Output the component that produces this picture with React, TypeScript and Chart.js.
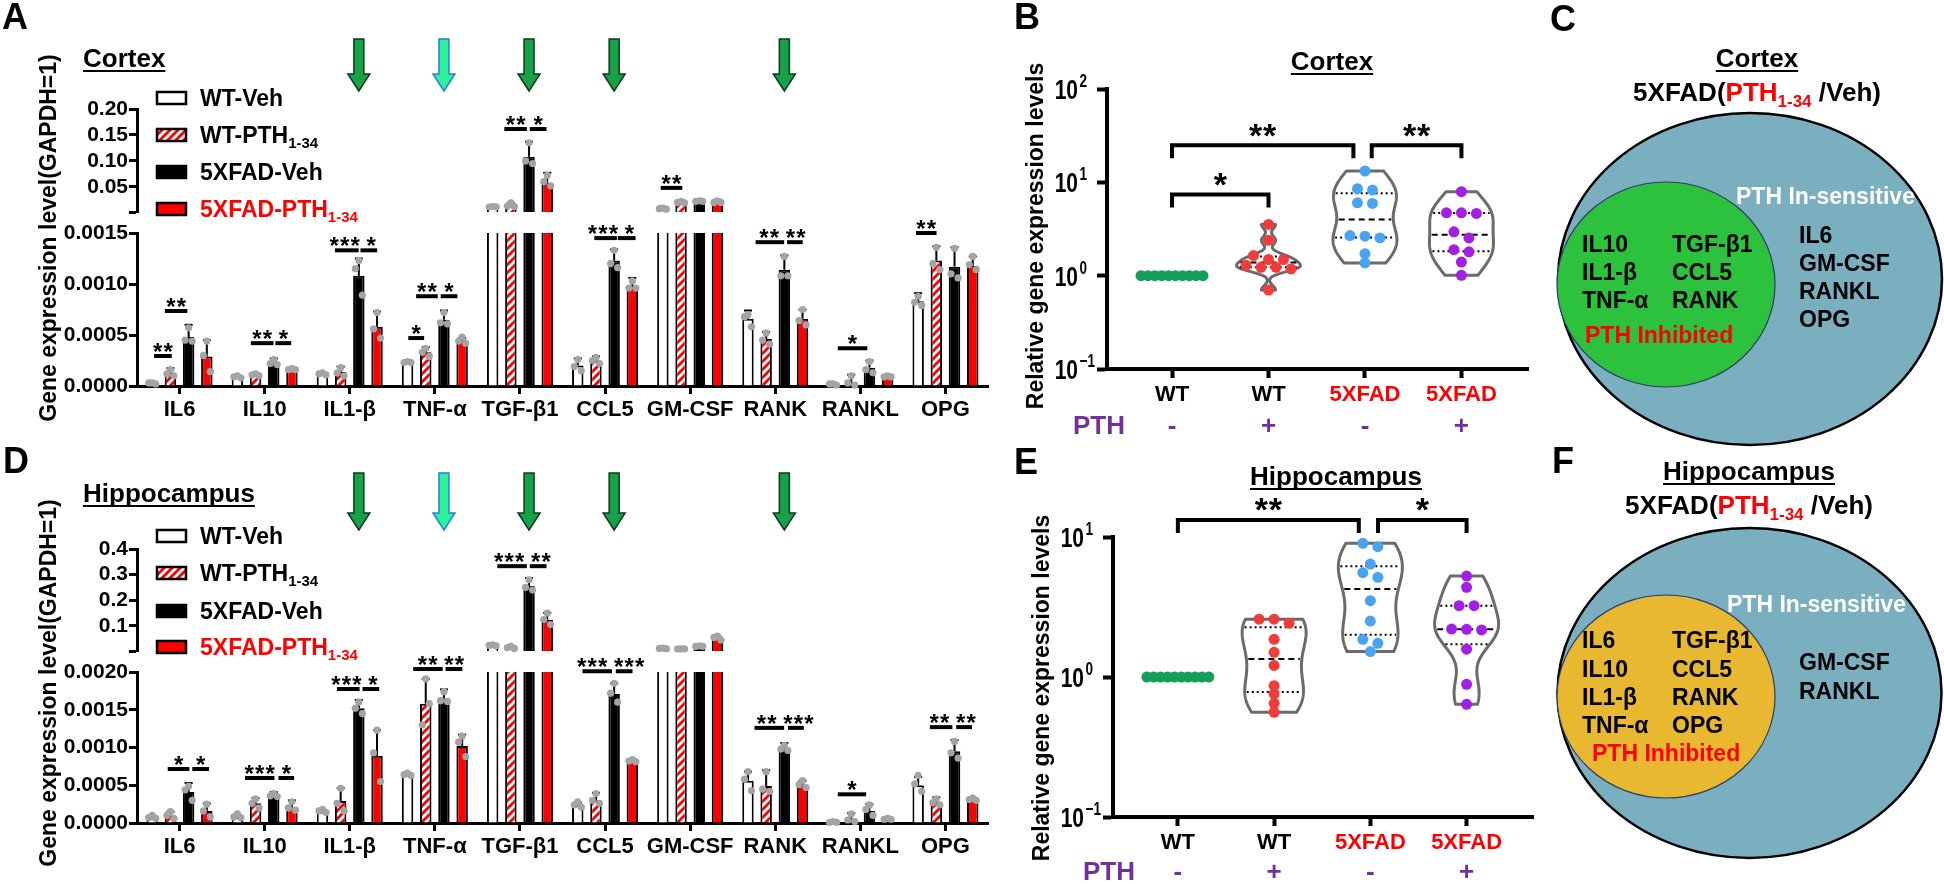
import React, { useEffect, useRef } from 'react';
import { Chart, registerables } from 'chart.js';

Chart.register(...registerables);

const CW = 1944;
const CH = 884;
const FONT = "'Liberation Sans', Arial, Helvetica, sans-serif";
const fnt = (size: number, bold: boolean = true) => `${bold ? 'bold ' : ''}${size}px ${FONT}`;
const RED = '#ff0000';
const PURPLE = '#7030a0';
Chart.defaults.font.family = FONT;

// ================= Panels A & D : gene expression (bars) =================
const GENES = ['IL6', 'IL10', 'IL1-β', 'TNF-α', 'TGF-β1', 'CCL5', 'GM-CSF', 'RANK', 'RANKL', 'OPG'];
const LEGEND_LABELS = [['WT-Veh', ''], ['WT-PTH', '1-34'], ['5XFAD-Veh', ''], ['5XFAD-PTH', '1-34']];

// Cortex means
const CTX_WT_VEH = [3e-5, 9e-5, 1.2e-4, 2.3e-4, 0.0115, 2.0e-4, 0.008, 6.6e-4, 2e-5, 8.3e-4];
const CTX_WT_PTH = [1.3e-4, 1.1e-4, 1.4e-4, 3.3e-4, 0.015, 2.5e-4, 0.02, 4.6e-4, 4e-5, 1.23e-3];
const CTX_5X_VEH = [4.8e-4, 2.3e-4, 1.08e-3, 6.5e-4, 0.108, 1.23e-3, 0.022, 1.14e-3, 1.8e-4, 1.17e-3];
const CTX_5X_PTH = [2.9e-4, 1.6e-4, 5.8e-4, 4.4e-4, 0.058, 9.8e-4, 0.021, 6.6e-4, 9e-5, 1.18e-3];
// Cortex SD
const CTX_SD_WT_VEH = [1e-5, 1e-5, 1e-5, 1e-5, 0.001, 7e-5, 0.002, 8e-5, 1e-5, 8e-5];
const CTX_SD_WT_PTH = [4.5e-5, 1.5e-5, 5e-5, 5e-5, 0.004, 4e-5, 0.003, 7e-5, 7e-5, 1.4e-4];
const CTX_SD_5X_VEH = [1.2e-4, 4e-5, 1.7e-4, 9e-5, 0.029, 1.1e-4, 0.002, 1.4e-4, 7e-5, 1.9e-4];
const CTX_SD_5X_PTH = [1.6e-4, 1e-5, 1.5e-4, 3e-5, 0.019, 8e-5, 0.004, 9e-5, 1e-5, 9e-5];
// Cortex individual samples
const CTX_PTS_WT_VEH = [[3e-5, 3e-5, 2e-5], [1e-4, 9e-5, 8e-5], [1.3e-4, 1.2e-4, 1.1e-4], [2.4e-4, 2.3e-4, 2.3e-4], [0.012, 0.011, 0.0115], [2.6e-4, 1.9e-4, 1.5e-4], [0.009, 0.008, 0.007], [7e-4, 6.8e-4, 5.8e-4], [2e-5, 2e-5, 1e-5], [8.8e-4, 8.2e-4, 7.9e-4]];
const CTX_PTS_WT_PTH = [[1.6e-4, 1.2e-4, 1.0e-4], [1.2e-4, 1.1e-4, 1.0e-4], [1.8e-4, 1.3e-4, 1.0e-4], [3.7e-4, 3.3e-4, 2.9e-4], [0.019, 0.013, 0.012], [2.8e-4, 2.5e-4, 2.2e-4], [0.022, 0.02, 0.019], [5.2e-4, 4.5e-4, 4.1e-4], [1e-4, 3e-5, 1e-5], [1.36e-3, 1.2e-3, 1.14e-3]];
const CTX_PTS_5X_VEH = [[5.7e-4, 4.5e-4, 4.4e-4], [2.6e-4, 2.2e-4, 2.1e-4], [1.23e-3, 1.15e-3, 8.9e-4], [7.2e-4, 6.2e-4, 6.1e-4], [0.135, 0.1, 0.095], [1.33e-3, 1.2e-3, 1.16e-3], [0.023, 0.022, 0.022], [1.27e-3, 1.08e-3, 1.08e-3], [2.4e-4, 1.6e-4, 1.3e-4], [1.35e-3, 1.1e-3, 1.06e-3]];
const CTX_PTS_5X_PTH = [[4.4e-4, 3.0e-4, 1.4e-4], [1.7e-4, 1.6e-4, 1.6e-4], [7.2e-4, 5.6e-4, 4.7e-4], [4.8e-4, 4.4e-4, 4.2e-4], [0.072, 0.06, 0.052], [1.03e-3, 9.6e-4, 9.6e-4], [0.023, 0.02, 0.02], [7.5e-4, 6.4e-4, 6.0e-4], [1e-4, 9e-5, 9e-5], [1.27e-3, 1.19e-3, 1.14e-3]];
// Cortex significance: [gene, from (bar units), to, level, axis part, label]
const CTX_SIG = [
  [0, -1.4, -0.43, 2.94e-4, 'l', '**'],
  [0, -0.81, 0.43, 7.35e-4, 'l', '**'],
  [1, -0.76, 0.49, 4.2e-4, 'l', '**'],
  [1, 0.59, 1.46, 4.2e-4, 'l', '*'],
  [2, -0.81, 0.49, 1.33e-3, 'l', '***'],
  [2, 0.59, 1.51, 1.33e-3, 'l', '*'],
  [3, -1.46, -0.59, 4.7e-4, 'l', '*'],
  [3, -1.03, 0.16, 8.8e-4, 'l', '**'],
  [3, 0.32, 1.24, 8.8e-4, 'l', '*'],
  [4, -0.86, 0.38, 0.1615, 'u', '**'],
  [4, 0.54, 1.46, 0.1615, 'u', '*'],
  [5, -0.59, 0.65, 1.45e-3, 'l', '***'],
  [5, 0.7, 1.68, 1.45e-3, 'l', '*'],
  [6, -1.62, -0.43, 0.048, 'u', '**'],
  [7, -1.08, 0.49, 1.41e-3, 'l', '**'],
  [7, 0.65, 1.51, 1.41e-3, 'l', '**'],
  [8, -1.24, 0.38, 3.7e-4, 'l', '*'],
  [9, -1.62, -0.49, 1.5e-3, 'l', '**'],
];

// Hippocampus means
const HIP_WT_VEH = [7e-5, 8e-5, 1.5e-4, 6.4e-4, 0.023, 2.4e-4, 0.012, 5.6e-4, 1e-5, 5.0e-4];
const HIP_WT_PTH = [1.0e-4, 2.6e-4, 2.9e-4, 1.58e-3, 0.016, 3.0e-4, 0.01, 4.9e-4, 6e-5, 2.8e-4];
const HIP_5X_VEH = [4.1e-4, 3.6e-4, 1.52e-3, 1.65e-3, 0.256, 1.71e-3, 0.02, 1.0e-3, 1.6e-4, 9.5e-4];
const HIP_5X_PTH = [1.6e-4, 2.1e-4, 8.9e-4, 1.02e-3, 0.124, 8.2e-4, 0.052, 5.0e-4, 5e-5, 3.1e-4];
// Hippocampus SD
const HIP_SD_WT_VEH = [2e-5, 2e-5, 2e-5, 1e-5, 0.002, 3e-5, 0.001, 1.2e-4, 1e-5, 1.1e-4];
const HIP_SD_WT_PTH = [5e-5, 7e-5, 1.7e-4, 3.3e-4, 0.004, 1e-4, 0.001, 2.1e-4, 7e-5, 6e-5];
const HIP_SD_5X_VEH = [1.2e-4, 5e-5, 1.1e-4, 1.2e-4, 0.031, 1.4e-4, 0.002, 6e-5, 9e-5, 1.5e-4];
const HIP_SD_5X_PTH = [1e-4, 9e-5, 3.4e-4, 1.5e-4, 0.027, 2e-5, 0.006, 6e-5, 1e-5, 2e-5];
// Hippocampus individual samples
const HIP_PTS_WT_VEH = [[1e-4, 7e-5, 6e-5], [1.2e-4, 8e-5, 7e-5], [1.8e-4, 1.6e-4, 1.4e-4], [6.6e-4, 6.4e-4, 6.3e-4], [0.026, 0.024, 0.022], [2.8e-4, 2.4e-4, 2.1e-4], [0.013, 0.012, 0.011], [6.8e-4, 5.8e-4, 4.3e-4], [2e-5, 1e-5, 1e-5], [6.3e-4, 5.2e-4, 4.2e-4]];
const HIP_PTS_WT_PTH = [[1.5e-4, 1.0e-4, 6e-5], [3.2e-4, 2.6e-4, 2.0e-4], [4.6e-4, 2.6e-4, 1.6e-4], [1.91e-3, 1.3e-3, 1.58e-3], [0.02, 0.015, 0.012], [3.9e-4, 3.0e-4, 2.6e-4], [0.01, 0.01, 0.01], [6.8e-4, 4.5e-4, 4.2e-4], [1.2e-4, 4e-5, 2e-5], [3.2e-4, 2.7e-4, 2.4e-4]];
const HIP_PTS_5X_VEH = [[4.9e-4, 4.4e-4, 3.0e-4], [3.9e-4, 3.6e-4, 3.5e-4], [1.6e-3, 1.52e-3, 1.45e-3], [1.74e-3, 1.62e-3, 1.61e-3], [0.28, 0.25, 0.24], [1.85e-3, 1.72e-3, 1.6e-3], [0.022, 0.02, 0.02], [1.03e-3, 9.8e-4, 9.6e-4], [2.4e-4, 1.8e-4, 1e-4], [1.08e-3, 9.3e-4, 8.6e-4]];
const HIP_PTS_5X_PTH = [[2.5e-4, 1.6e-4, 8e-5], [2.8e-4, 2.0e-4, 1.7e-4], [1.23e-3, 9.3e-4, 5.5e-4], [1.15e-3, 1.07e-3, 8.8e-4], [0.15, 0.125, 0.105], [8.4e-4, 8.2e-4, 8.1e-4], [0.06, 0.055, 0.045], [5.6e-4, 5.1e-4, 4.7e-4], [6e-5, 5e-5, 5e-5], [3.3e-4, 3.1e-4, 3.0e-4]];
const HIP_SIG = [
  [0, -0.65, 0.54, 7.15e-4, 'l', '*'],
  [0, 0.7, 1.62, 7.15e-4, 'l', '*'],
  [1, -1.08, 0.54, 5.96e-4, 'l', '***'],
  [1, 0.76, 1.62, 5.96e-4, 'l', '*'],
  [2, -0.7, 0.54, 1.775e-3, 'l', '***'],
  [2, 0.7, 1.62, 1.775e-3, 'l', '*'],
  [3, -1.19, 0.43, 2.04e-3, 'l', '**'],
  [3, 0.59, 1.51, 2.04e-3, 'l', '**'],
  [4, -1.24, 0.38, 0.333, 'u', '***'],
  [4, 0.54, 1.46, 0.333, 'u', '**'],
  [5, -1.24, 0.38, 2.01e-3, 'l', '***'],
  [5, 0.59, 1.51, 2.01e-3, 'l', '***'],
  [7, -1.14, 0.49, 1.26e-3, 'l', '**'],
  [7, 0.7, 1.57, 1.26e-3, 'l', '***'],
  [8, -1.24, 0.32, 3.8e-4, 'l', '*'],
  [9, -0.86, 0.38, 1.27e-3, 'l', '**'],
  [9, 0.59, 1.46, 1.27e-3, 'l', '**'],
];

const ARROW_GENES = [2, 3, 4, 5, 7];
const ARROW_LIGHT = [false, true, false, false, false];

// ================= Panels B & E : relative expression (violins) =================
const REL_CATS = ['WT', 'WT', '5XFAD', '5XFAD'];
const REL_CAT_COLORS = ['#000000', '#000000', RED, RED];
const PTH_SIGNS = ['-', '+', '-', '+'];
const REL_DOT_COLORS = ['#139f5b', '#f23b3b', '#4aa3f2', '#a21fe6'];

const CTX_REL_WT_VEH = [1, 1, 1, 1, 1, 1, 1, 1, 1, 1];
const CTX_REL_WT_PTH = [3.54, 2.39, 1.64, 1.49, 1.49, 1.29, 1.23, 1.23, 1.18, 0.7];
const CTX_REL_5X_VEH = [13.2, 8.55, 8.26, 6.03, 5.94, 2.69, 2.65, 2.54, 1.72, 1.37];
const CTX_REL_5X_PTH = [7.94, 4.72, 4.72, 4.64, 2.95, 2.54, 1.9, 1.8, 1.4, 1.01];
const CTX_REL_SIG = [
  { from: 0, to: 1, v: 7.4, t: '*' },
  { from: 0, to: 1.88, v: 25, t: '**' },
  { from: 2.07, to: 3, v: 25, t: '**' },
];

const HIP_REL_WT_VEH = [1, 1, 1, 1, 1, 1, 1, 1, 1, 1];
const HIP_REL_WT_PTH = [2.59, 2.59, 2.42, 1.86, 1.5, 1.21, 0.867, 0.756, 0.649, 0.56];
const HIP_REL_5X_VEH = [9.02, 8.53, 6.41, 5.56, 5.15, 3.51, 2.51, 1.86, 1.74, 1.52];
const HIP_REL_5X_PTH = [5.26, 4.37, 3.23, 3.23, 2.2, 2.19, 2.17, 1.58, 0.887, 0.638];
const HIP_REL_SIG = [
  { from: 0, to: 1.88, v: 13.2, t: '**' },
  { from: 2.08, to: 3, v: 13.2, t: '*' },
];

// ================= Panels C & F : Venn summaries =================
const C_INHIB_1 = ['IL10', 'IL1-β', 'TNF-α'];
const C_INHIB_2 = ['TGF-β1', 'CCL5', 'RANK'];
const C_INSENS = ['IL6', 'GM-CSF', 'RANKL', 'OPG'];
const F_INHIB_1 = ['IL6', 'IL10', 'IL1-β', 'TNF-α'];
const F_INHIB_2 = ['TGF-β1', 'CCL5', 'RANK', 'OPG'];
const F_INSENS = ['GM-CSF', 'RANKL'];

// ================= layout configs =================
const A_CFG = {
  letter: 'A', letterPos: [2, 19], title: 'Cortex', titlePos: [83, 60], yTitle: [50, 238],
  upper: { l: 137, t: 109, r: 988, b: 212, min: 0.0015, max: 0.2, ticks: [0.05, 0.1, 0.15, 0.2], dec: 2 },
  lower: { l: 137, t: 233, r: 988, b: 386, max: 0.0015, ticks: [0, 0.0005, 0.001, 0.0015] },
  legendRows: [98, 135, 172, 209], arrowTop: 39, arrowBot: 91,
  means: [CTX_WT_VEH, CTX_WT_PTH, CTX_5X_VEH, CTX_5X_PTH],
  sds: [CTX_SD_WT_VEH, CTX_SD_WT_PTH, CTX_SD_5X_VEH, CTX_SD_5X_PTH],
  pts: [CTX_PTS_WT_VEH, CTX_PTS_WT_PTH, CTX_PTS_5X_VEH, CTX_PTS_5X_PTH],
  sig: CTX_SIG,
};
const D_CFG = {
  letter: 'D', letterPos: [3, 463], title: 'Hippocampus', titlePos: [83, 495], yTitle: [50, 683],
  upper: { l: 137, t: 549, r: 988, b: 651, min: 0.002, max: 0.4, ticks: [0.1, 0.2, 0.3, 0.4], dec: 1 },
  lower: { l: 137, t: 672, r: 988, b: 823, max: 0.002, ticks: [0, 0.0005, 0.001, 0.0015, 0.002] },
  legendRows: [536, 573, 611, 647], arrowTop: 473, arrowBot: 530,
  means: [HIP_WT_VEH, HIP_WT_PTH, HIP_5X_VEH, HIP_5X_PTH],
  sds: [HIP_SD_WT_VEH, HIP_SD_WT_PTH, HIP_SD_5X_VEH, HIP_SD_5X_PTH],
  pts: [HIP_PTS_WT_VEH, HIP_PTS_WT_PTH, HIP_PTS_5X_VEH, HIP_PTS_5X_PTH],
  sig: HIP_SIG,
};
const B_CFG = {
  letter: 'B', letterPos: [1014, 19], title: 'Cortex', titlePos: [1332, 63], yTitle: [1037, 236],
  area: { l: 1107, t: 89, r: 1528, b: 369 }, yMin: 0.1, yMax: 100, yTicks: [0.1, 1, 10, 100], exps: ['−1', '0', '1', '2'],
  xMin: -0.674, xMax: 3.69, pthX: 1073, pthY: 427,
  groups: [CTX_REL_WT_VEH, CTX_REL_WT_PTH, CTX_REL_5X_VEH, CTX_REL_5X_PTH], sig: CTX_REL_SIG,
};
const E_CFG = {
  letter: 'E', letterPos: [1014, 464], title: 'Hippocampus', titlePos: [1336, 478], yTitle: [1043, 688],
  area: { l: 1113, t: 537, r: 1533, b: 817 }, yMin: 0.1, yMax: 10, yTicks: [0.1, 1, 10], exps: ['−1', '0', '1'],
  xMin: -0.674, xMax: 3.69, pthX: 1083, pthY: 873,
  groups: [HIP_REL_WT_VEH, HIP_REL_WT_PTH, HIP_REL_5X_VEH, HIP_REL_5X_PTH], sig: HIP_REL_SIG,
};
const VENN = [
  {
    letter: 'C', letterPos: [1550, 21], title: 'Cortex', cx: 1757, titleY: 60, subY: 92,
    outer: [1750, 279, 192, 166], inner: [1666, 284.5, 109, 102.5], innerFill: '#2cc23e',
    col1: C_INHIB_1, col2: C_INHIB_2, right: C_INSENS, col1X: 1582, col2X: 1672, rowY0: 246, rowDy: 28,
    inhibX: 1585, inhibY: 337, insensX: 1736, insensY: 198, rightX: 1799, rightY0: 237,
  },
  {
    letter: 'F', letterPos: [1552, 463], title: 'Hippocampus', cx: 1749, titleY: 473, subY: 505,
    outer: [1749.5, 693, 192, 165], inner: [1666, 696.5, 109, 101.5], innerFill: '#e8b830',
    col1: F_INHIB_1, col2: F_INHIB_2, right: F_INSENS, col1X: 1582, col2X: 1672, rowY0: 642, rowDy: 28.3,
    inhibX: 1592, inhibY: 755, insensX: 1727, insensY: 606, rightX: 1799, rightY0: 664,
  },
];

// ================= drawing helpers =================
function line(ctx: any, x1: number, y1: number, x2: number, y2: number) {
  ctx.beginPath();
  ctx.moveTo(x1, y1);
  ctx.lineTo(x2, y2);
  ctx.stroke();
}
function drawParts(ctx: any, parts: any[], x: number, baseline: number, size: number, align: string) {
  const subSize = Math.round(size * 0.64);
  const widths = parts.map((p) => {
    ctx.font = fnt(p.sub ? subSize : size);
    return ctx.measureText(p.t).width;
  });
  const total = widths.reduce((a, b) => a + b, 0);
  let cx = align === 'center' ? x - total / 2 : x;
  ctx.textAlign = 'left';
  ctx.textBaseline = 'alphabetic';
  parts.forEach((p, i) => {
    ctx.font = fnt(p.sub ? subSize : size);
    ctx.fillStyle = p.c;
    ctx.fillText(p.t, cx, baseline + (p.sub ? size * 0.22 : 0));
    cx += widths[i];
  });
}
function drawLetter(ctx: any, letter: string, pos: number[]) {
  ctx.font = fnt(36);
  ctx.fillStyle = '#000';
  ctx.textAlign = 'left';
  ctx.textBaseline = 'middle';
  ctx.fillText(letter, pos[0], pos[1]);
}
function drawTitle(ctx: any, text: string, x: number, cy: number, align: string) {
  ctx.font = fnt(26);
  const w = ctx.measureText(text).width;
  const x0 = align === 'center' ? x - w / 2 : x;
  ctx.textAlign = 'left';
  ctx.textBaseline = 'middle';
  ctx.fillStyle = '#000';
  ctx.fillText(text, x0, cy);
  ctx.lineWidth = 2;
  ctx.strokeStyle = '#000';
  line(ctx, x0, cy + 11, x0 + w, cy + 11);
}
function drawVTitle(ctx: any, text: string, pos: number[], size: number) {
  ctx.save();
  ctx.translate(pos[0], pos[1]);
  ctx.rotate(-Math.PI / 2);
  ctx.font = fnt(size);
  ctx.fillStyle = '#000';
  ctx.textAlign = 'center';
  ctx.textBaseline = 'middle';
  ctx.fillText(text, 0, 0);
  ctx.restore();
}
// asterisks drawn one by one with a fixed pitch, centred on x
function drawStars(ctx: any, t: string, x: number, lineY: number, size: number, gap: number, pitch: number) {
  ctx.font = fnt(size);
  ctx.fillStyle = '#000';
  ctx.textAlign = 'center';
  ctx.textBaseline = 'alphabetic';
  const n = t.length;
  const base = lineY - gap + 0.57 * size;
  for (let i = 0; i < n; i++) {
    ctx.fillText('*', x + (i - (n - 1) / 2) * pitch, base);
  }
}

let stripeCache: any = null;
function stripePattern() {
  if (stripeCache) return stripeCache;
  const c = document.createElement('canvas');
  c.width = 8;
  c.height = 8;
  const g = c.getContext('2d') as CanvasRenderingContext2D;
  g.fillStyle = RED;
  g.fillRect(0, 0, 8, 8);
  g.strokeStyle = '#ffffff';
  g.lineWidth = 2.8;
  g.beginPath();
  g.moveTo(-2, 10); g.lineTo(10, -2);
  g.moveTo(-6, 6); g.lineTo(6, -6);
  g.moveTo(2, 14); g.lineTo(14, 2);
  g.stroke();
  stripeCache = g.createPattern(c, 'repeat');
  return stripeCache;
}

const DOT_DX = [0, -3.5, 3.5];
const STAR_PITCH = 10.5;
const STAR_GLYPH = 9;

// ================= bar panel plugin =================
function barPanelPlugin(cfg: any, part: string) {
  const lowMax = cfg.lower.max;
  const onPart = (v: number) => (part === 'u' ? v > lowMax : v <= lowMax);
  return {
    id: 'barPanel' + part,
    afterDatasetsDraw(chart: any) {
      const ctx = chart.ctx;
      const ys = chart.scales.y;
      const metas = [0, 1, 2, 3].map((i) => chart.getDatasetMeta(i));
      ctx.save();
      ctx.lineCap = 'butt';
      for (let g = 0; g < 4; g++) {
        for (let c = 0; c < GENES.length; c++) {
          const m = cfg.means[g][c];
          if (!onPart(m)) continue;
          const x = metas[g].data[c].x;
          const yM = ys.getPixelForValue(m);
          const yT = ys.getPixelForValue(m + cfg.sds[g][c]);
          ctx.strokeStyle = '#000';
          ctx.lineWidth = 2;
          line(ctx, x, yM, x, yT);
          line(ctx, x - 4, yT, x + 4, yT);
        }
      }
      ctx.fillStyle = '#a4a4a4';
      for (let g = 0; g < 4; g++) {
        for (let c = 0; c < GENES.length; c++) {
          const m = cfg.means[g][c];
          if (!onPart(m)) continue;
          const x = metas[g].data[c].x;
          cfg.pts[g][c].forEach((v: number, k: number) => {
            ctx.beginPath();
            ctx.arc(x + DOT_DX[k], ys.getPixelForValue(v), 3.6, 0, Math.PI * 2);
            ctx.fill();
          });
        }
      }
      // significance lines + stars (star groups on the same level are kept apart)
      const items: any[] = [];
      for (const s of cfg.sig) {
        const [c, from, to, v, p, label] = s;
        if (p !== part) continue;
        const slot = metas[1].data[c].x - metas[0].data[c].x;
        const mid = (metas[1].data[c].x + metas[2].data[c].x) / 2;
        const y = ys.getPixelForValue(v);
        const xa = mid + from * slot;
        const xb = mid + to * slot;
        items.push({ c, y, xa, xb, label, sx: (xa + xb) / 2, w: (label.length - 1) * STAR_PITCH + STAR_GLYPH });
      }
      for (let i = 0; i < items.length; i++) {
        for (let j = 0; j < items.length; j++) {
          const A = items[i];
          const B = items[j];
          if (A.c !== B.c || Math.abs(A.y - B.y) > 1 || A.sx >= B.sx) continue;
          const overlap = A.sx + A.w / 2 + 7 - (B.sx - B.w / 2);
          if (overlap > 0) {
            A.sx -= overlap / 2;
            B.sx += overlap / 2;
          }
        }
      }
      items.forEach((it) => {
        ctx.lineWidth = 4;
        ctx.strokeStyle = '#000';
        line(ctx, it.xa, it.y, it.xb, it.y);
        drawStars(ctx, it.label, it.sx, it.y, 24, 10, STAR_PITCH);
      });
      ctx.restore();
    },
    afterDraw(chart: any) {
      const ctx = chart.ctx;
      ctx.save();
      if (part === 'u') {
        drawLetter(ctx, cfg.letter, cfg.letterPos);
        drawTitle(ctx, cfg.title, cfg.titlePos[0], cfg.titlePos[1], 'left');
        // legend
        const fills = ['#ffffff', stripePattern(), '#000000', RED];
        cfg.legendRows.forEach((y: number, i: number) => {
          ctx.fillStyle = fills[i];
          ctx.fillRect(157, y - 6, 29, 12);
          ctx.lineWidth = 2.5;
          ctx.strokeStyle = '#000';
          ctx.strokeRect(157, y - 6, 29, 12);
          const col = i === 3 ? RED : '#000';
          const parts: any[] = [{ t: LEGEND_LABELS[i][0], c: col }];
          if (LEGEND_LABELS[i][1]) parts.push({ t: LEGEND_LABELS[i][1], c: col, sub: true });
          drawParts(ctx, parts, 200, y + 8, 23, 'left');
        });
        // arrows
        const xs = chart.scales.x;
        const m0 = chart.getDatasetMeta(0);
        const m1 = chart.getDatasetMeta(1);
        ARROW_GENES.forEach((gi, k) => {
          const slot = m1.data[gi].x - m0.data[gi].x;
          const x = xs.getPixelForValue(gi) + 0.5 * slot;
          const top = cfg.arrowTop;
          const bot = cfg.arrowBot;
          const hh = 17, sw = 5, hw = 11;
          ctx.beginPath();
          ctx.moveTo(x - sw, top);
          ctx.lineTo(x + sw, top);
          ctx.lineTo(x + sw, bot - hh);
          ctx.lineTo(x + hw, bot - hh);
          ctx.lineTo(x, bot);
          ctx.lineTo(x - hw, bot - hh);
          ctx.lineTo(x - sw, bot - hh);
          ctx.closePath();
          ctx.fillStyle = ARROW_LIGHT[k] ? '#2cf29a' : '#17a24a';
          ctx.fill();
          ctx.lineWidth = 1.5;
          ctx.strokeStyle = ARROW_LIGHT[k] ? '#2b7de0' : '#0d3b1c';
          ctx.stroke();
        });
      } else {
        drawVTitle(ctx, 'Gene expression level(GAPDH=1)', cfg.yTitle, 23);
      }
      ctx.restore();
    },
  };
}

function barChartConfig(cfg: any, part: string) {
  const isU = part === 'u';
  const ar = isU ? cfg.upper : cfg.lower;
  const Y_W = 100;
  const X_H = 50;
  const stripe = stripePattern();
  const yMin = isU ? ar.min : 0;
  const tickVals = isU ? [ar.min, ...ar.ticks] : ar.ticks;
  const ds = (i: number, bg: any) => ({
    label: LEGEND_LABELS[i].join(''),
    data: cfg.means[i],
    backgroundColor: bg,
    borderColor: '#000',
    borderWidth: 2,
    clip: 0,
  });
  const xAxis: any = {
    type: 'category',
    display: !isU,
    offset: true,
    grid: { offset: false, drawOnChartArea: false, drawTicks: true, tickLength: 8, tickWidth: 3, tickColor: '#000' },
    border: { display: true, width: 3, color: '#000' },
    ticks: { color: '#000', font: { family: FONT, size: 22, weight: 'bold' }, padding: 3, maxRotation: 0, autoSkip: false },
  };
  if (!isU) xAxis.afterFit = (s: any) => { s.height = X_H; };
  return {
    type: 'bar',
    data: {
      labels: GENES,
      datasets: [ds(0, '#ffffff'), ds(1, stripe), ds(2, '#000000'), ds(3, RED)],
    },
    options: {
      responsive: false,
      animation: false,
      events: [],
      layout: { padding: { left: ar.l - Y_W, top: ar.t, right: CW - ar.r, bottom: CH - ar.b - (isU ? 0 : X_H) } },
      plugins: { legend: { display: false }, tooltip: { enabled: false } },
      datasets: { bar: { categoryPercentage: 0.855, barPercentage: 0.63 } },
      scales: {
        x: xAxis,
        y: {
          type: 'linear',
          min: yMin,
          max: ar.max,
          afterBuildTicks: (s: any) => { s.ticks = tickVals.map((v: number) => ({ value: v })); },
          afterFit: (s: any) => { s.width = Y_W; },
          grid: { drawOnChartArea: false, drawTicks: true, tickLength: 8, tickWidth: 3, tickColor: '#000' },
          border: { display: true, width: 3, color: '#000' },
          ticks: {
            color: '#000',
            padding: 1,
            autoSkip: false,
            font: { family: FONT, size: 21, weight: 'bold' },
            callback: (v: any) => {
              const n = Number(v);
              if (isU) return n < 0.01 ? '' : n.toFixed(ar.dec);
              return n.toFixed(4);
            },
          },
        },
      },
    },
    plugins: [barPanelPlugin(cfg, part)],
  };
}

// ================= violin panel =================
function violinStats(vals: number[]) {
  const lv = vals.map((v) => Math.log10(v)).sort((a, b) => a - b);
  const n = lv.length;
  const mean = lv.reduce((a, b) => a + b, 0) / n;
  const sd = Math.sqrt(lv.reduce((a, b) => a + (b - mean) * (b - mean), 0) / (n - 1));
  if (sd < 1e-9) return null;
  const q = (p: number) => {
    const i = p * (n - 1);
    const lo = Math.floor(i);
    const hi = Math.ceil(i);
    return lv[lo] + (lv[hi] - lv[lo]) * (i - lo);
  };
  const iqr = q(0.75) - q(0.25);
  const s = Math.min(sd, iqr > 0 ? iqr / 1.34 : sd);
  const h = 0.9 * s * Math.pow(n, -0.2);
  const kd = (t: number) => lv.reduce((a, v) => a + Math.exp(-0.5 * ((t - v) / h) ** 2), 0);
  const lo = lv[0];
  const hi = lv[n - 1];
  const steps = 90;
  const raw: number[][] = [];
  for (let i = 0; i <= steps; i++) {
    const t = lo + ((hi - lo) * i) / steps;
    raw.push([t, kd(t)]);
  }
  const maxD = Math.max(...raw.map((r) => r[1]));
  return {
    grid: raw.map(([t, d]) => [t, d / maxD]),
    dens: (t: number) => kd(t) / maxD,
    q1: q(0.25),
    med: q(0.5),
    q3: q(0.75),
  };
}

function swarmOffsets(vals: number[], cfg: any) {
  const a = cfg.area;
  const l0 = Math.log10(cfg.yMin);
  const l1 = Math.log10(cfg.yMax);
  const pxPerX = (a.r - a.l) / (cfg.xMax - cfg.xMin);
  const py = (v: number) => a.b - ((Math.log10(v) - l0) / (l1 - l0)) * (a.b - a.t);
  const idx = vals.map((_, i) => i).sort((p, q) => py(vals[p]) - py(vals[q]));
  const offs = new Array(vals.length).fill(0);
  let i = 0;
  while (i < idx.length) {
    const y0 = py(vals[idx[i]]);
    let j = i;
    while (j < idx.length && py(vals[idx[j]]) - y0 <= 7) j++;
    const n = j - i;
    const sp = n > 4 ? Math.min(15, 62 / (n - 1)) : 15;
    for (let k = 0; k < n; k++) offs[idx[i + k]] = ((k - (n - 1) / 2) * sp) / pxPerX;
    i = j;
  }
  return offs;
}

function relPlugin(cfg: any) {
  return {
    id: 'relPanel',
    beforeDatasetsDraw(chart: any) {
      const ctx = chart.ctx;
      const xs = chart.scales.x;
      const ys = chart.scales.y;
      ctx.save();
      const HW = 32;
      cfg.groups.forEach((vals: number[], gi: number) => {
        const vs = violinStats(vals);
        if (!vs) return;
        const cx = xs.getPixelForValue(gi);
        ctx.beginPath();
        vs.grid.forEach(([t, d], i) => {
          const y = ys.getPixelForValue(10 ** t);
          if (i === 0) ctx.moveTo(cx + d * HW, y);
          else ctx.lineTo(cx + d * HW, y);
        });
        for (let i = vs.grid.length - 1; i >= 0; i--) {
          const [t, d] = vs.grid[i];
          ctx.lineTo(cx - d * HW, ys.getPixelForValue(10 ** t));
        }
        ctx.closePath();
        ctx.fillStyle = '#ffffff';
        ctx.fill();
        ctx.lineWidth = 3;
        ctx.lineJoin = 'round';
        ctx.strokeStyle = '#6b6b6b';
        ctx.stroke();
        const qs: any[] = [[vs.q1, [2, 3]], [vs.med, [6, 4]], [vs.q3, [2, 3]]];
        qs.forEach(([t, dash]) => {
          const y = ys.getPixelForValue(10 ** t);
          const w = vs.dens(t) * HW - 2;
          ctx.setLineDash(dash);
          ctx.lineWidth = 2;
          ctx.strokeStyle = '#000';
          line(ctx, cx - w, y, cx + w, y);
        });
        ctx.setLineDash([]);
      });
      ctx.restore();
    },
    afterDraw(chart: any) {
      const ctx = chart.ctx;
      const xs = chart.scales.x;
      const ys = chart.scales.y;
      ctx.save();
      drawLetter(ctx, cfg.letter, cfg.letterPos);
      drawTitle(ctx, cfg.title, cfg.titlePos[0], cfg.titlePos[1], 'center');
      drawVTitle(ctx, 'Relative gene expression levels', cfg.yTitle, 23);
      // log tick labels 10^n
      cfg.yTicks.forEach((v: number, i: number) => {
        const y = ys.getPixelForValue(v);
        ctx.save();
        ctx.translate(cfg.area.l - 29, y);
        ctx.scale(0.75, 1);
        ctx.fillStyle = '#000';
        ctx.font = fnt(28);
        ctx.textAlign = 'right';
        ctx.textBaseline = 'alphabetic';
        ctx.fillText('10', 0, 10);
        ctx.font = fnt(18);
        ctx.textAlign = 'left';
        ctx.fillText(cfg.exps[i], 2, -2);
        ctx.restore();
      });
      // brackets
      ctx.strokeStyle = '#000';
      ctx.lineWidth = 4;
      ctx.lineJoin = 'miter';
      cfg.sig.forEach((s: any) => {
        const xa = xs.getPixelForValue(s.from);
        const xb = xs.getPixelForValue(s.to);
        const y = ys.getPixelForValue(s.v);
        ctx.beginPath();
        ctx.moveTo(xa, y + 13);
        ctx.lineTo(xa, y);
        ctx.lineTo(xb, y);
        ctx.lineTo(xb, y + 13);
        ctx.stroke();
        drawStars(ctx, s.t, (xa + xb) / 2, y, 34, 18, 14);
      });
      // PTH row
      ctx.font = fnt(26);
      ctx.fillStyle = PURPLE;
      ctx.textBaseline = 'middle';
      ctx.textAlign = 'left';
      ctx.fillText('PTH', cfg.pthX, cfg.pthY);
      ctx.textAlign = 'center';
      PTH_SIGNS.forEach((s, i) => ctx.fillText(s, xs.getPixelForValue(i), cfg.pthY));
      ctx.restore();
    },
  };
}

function relChartConfig(cfg: any) {
  const a = cfg.area;
  const Y_W = 60;
  const X_H = 50;
  return {
    type: 'scatter',
    data: {
      datasets: cfg.groups.map((vals: number[], gi: number) => {
        const offs = swarmOffsets(vals, cfg);
        return {
          data: vals.map((v, k) => ({ x: gi + offs[k], y: v })),
          pointRadius: 5.5,
          pointBorderWidth: 0,
          backgroundColor: REL_DOT_COLORS[gi],
          borderColor: REL_DOT_COLORS[gi],
          clip: false,
        };
      }),
    },
    options: {
      responsive: false,
      animation: false,
      events: [],
      layout: { padding: { left: a.l - Y_W, top: a.t, right: CW - a.r, bottom: CH - a.b - X_H } },
      plugins: { legend: { display: false }, tooltip: { enabled: false } },
      scales: {
        x: {
          type: 'linear',
          min: cfg.xMin,
          max: cfg.xMax,
          afterBuildTicks: (s: any) => { s.ticks = [0, 1, 2, 3].map((v) => ({ value: v })); },
          afterFit: (s: any) => { s.height = X_H; },
          grid: { drawOnChartArea: false, drawTicks: true, tickLength: 9, tickWidth: 4, tickColor: '#000' },
          border: { display: true, width: 4, color: '#000' },
          ticks: {
            autoSkip: false,
            maxRotation: 0,
            padding: 4,
            font: { family: FONT, size: 22, weight: 'bold' },
            color: (c: any) => REL_CAT_COLORS[c.index] || '#000',
            callback: (_v: any, i: number) => REL_CATS[i],
          },
        },
        y: {
          type: 'logarithmic',
          min: cfg.yMin,
          max: cfg.yMax,
          afterBuildTicks: (s: any) => { s.ticks = cfg.yTicks.map((v: number) => ({ value: v })); },
          afterFit: (s: any) => { s.width = Y_W; },
          grid: { drawOnChartArea: false, drawTicks: true, tickLength: 10, tickWidth: 4, tickColor: '#000' },
          border: { display: true, width: 4, color: '#000' },
          ticks: { callback: () => '', padding: 0, autoSkip: false },
        },
      },
    },
    plugins: [relPlugin(cfg)],
  };
}

// ================= Venn panels =================
function drawVenn(ctx: any, v: any) {
  drawLetter(ctx, v.letter, v.letterPos);
  drawTitle(ctx, v.title, v.cx, v.titleY, 'center');
  drawParts(
    ctx,
    [{ t: '5XFAD(', c: '#000' }, { t: 'PTH', c: RED }, { t: '1-34', c: RED, sub: true }, { t: ' /Veh)', c: '#000' }],
    v.cx, v.subY + 9, 26, 'center'
  );
  const [ox, oy, orx, ory] = v.outer;
  ctx.beginPath();
  ctx.ellipse(ox, oy, orx, ory, 0, 0, Math.PI * 2);
  ctx.fillStyle = '#7aafbf';
  ctx.fill();
  ctx.lineWidth = 2.5;
  ctx.strokeStyle = '#000';
  ctx.stroke();
  const [ix, iy, irx, iry] = v.inner;
  ctx.beginPath();
  ctx.ellipse(ix, iy, irx, iry, 0, 0, Math.PI * 2);
  ctx.fillStyle = v.innerFill;
  ctx.fill();
  ctx.lineWidth = 1.2;
  ctx.strokeStyle = '#2e3b66';
  ctx.stroke();
  ctx.font = fnt(23);
  ctx.textAlign = 'left';
  ctx.textBaseline = 'middle';
  ctx.fillStyle = '#000';
  v.col1.forEach((t: string, i: number) => ctx.fillText(t, v.col1X, v.rowY0 + i * v.rowDy));
  v.col2.forEach((t: string, i: number) => ctx.fillText(t, v.col2X, v.rowY0 + i * v.rowDy));
  v.right.forEach((t: string, i: number) => ctx.fillText(t, v.rightX, v.rightY0 + i * v.rowDy));
  ctx.fillStyle = RED;
  ctx.fillText('PTH Inhibited', v.inhibX, v.inhibY);
  ctx.fillStyle = '#ffffff';
  ctx.fillText('PTH In-sensitive', v.insensX, v.insensY);
}

function vennConfig() {
  return {
    type: 'scatter',
    data: { datasets: [] },
    options: {
      responsive: false,
      animation: false,
      events: [],
      plugins: { legend: { display: false }, tooltip: { enabled: false } },
      scales: { x: { display: false }, y: { display: false } },
    },
    plugins: [
      {
        id: 'venn',
        afterDraw(chart: any) {
          const ctx = chart.ctx;
          ctx.save();
          VENN.forEach((v) => drawVenn(ctx, v));
          ctx.restore();
        },
      },
    ],
  };
}

export default function App() {
  const r1 = useRef<HTMLCanvasElement>(null);
  const r2 = useRef<HTMLCanvasElement>(null);
  const r3 = useRef<HTMLCanvasElement>(null);
  const r4 = useRef<HTMLCanvasElement>(null);
  const r5 = useRef<HTMLCanvasElement>(null);
  const r6 = useRef<HTMLCanvasElement>(null);
  const r7 = useRef<HTMLCanvasElement>(null);
  const refs = [r1, r2, r3, r4, r5, r6, r7];

  useEffect(() => {
    const configs: any[] = [
      barChartConfig(A_CFG, 'u'),
      barChartConfig(A_CFG, 'l'),
      barChartConfig(D_CFG, 'u'),
      barChartConfig(D_CFG, 'l'),
      relChartConfig(B_CFG),
      relChartConfig(E_CFG),
      vennConfig(),
    ];
    const charts = configs.map((c, i) => new Chart(refs[i].current as HTMLCanvasElement, c));
    return () => charts.forEach((c) => c.destroy());
  }, []);

  return (
    <div style={{ position: 'absolute', left: 0, top: 0, width: CW, height: CH, background: '#ffffff', overflow: 'hidden' }}>
      {refs.map((r, i) => (
        <canvas
          key={i}
          ref={r}
          width={CW}
          height={CH}
          style={{ position: 'absolute', left: 0, top: 0, width: CW, height: CH }}
        />
      ))}
    </div>
  );
}
